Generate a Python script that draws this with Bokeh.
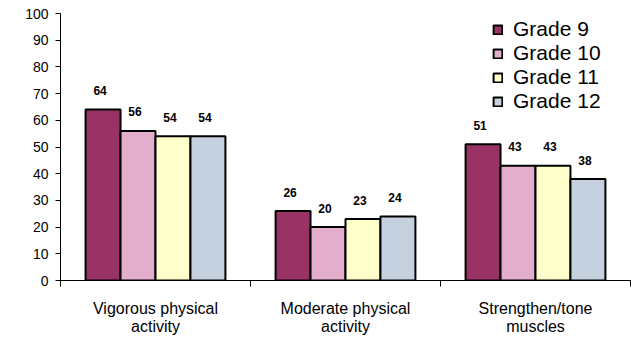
from bokeh.plotting import figure
from bokeh.models import ColumnDataSource, FixedTicker, Legend, LegendItem, Range1d
from bokeh.core.properties import value
from bokeh.embed import file_html
from bokeh.resources import INLINE

categories = ["Vigorous physical\nactivity", "Moderate physical\nactivity", "Strengthen/tone\nmuscles"]
grades = ["Grade 9", "Grade 10", "Grade 11", "Grade 12"]
grade9 = [64, 26, 51]
grade10 = [56, 20, 43]
grade11 = [54, 23, 43]
grade12 = [54, 24, 38]
y_ticks = [0, 10, 20, 30, 40, 50, 60, 70, 80, 90, 100]

series = [grade9, grade10, grade11, grade12]
colors = ["#993366", "#E3AECB", "#FFFFCC", "#C5D1DE"]

FONT = "Liberation Sans"

p = figure(width=631, height=338, output_backend="svg", toolbar_location=None,
           x_range=Range1d(0, 3), y_range=Range1d(0, 100),
           min_border_left=60, min_border_right=1, min_border_top=13, min_border_bottom=58)
p.outline_line_color = None
p.grid.grid_line_color = None
p.background_fill_color = "white"
p.border_fill_color = "white"

bw = 0.184
centers = [i + 0.5 for i in range(len(categories))]
renderers = []
for k, (vals, col) in enumerate(zip(series, colors)):
    xs = [c + (k - 1.5) * bw for c in centers]
    src = ColumnDataSource(dict(x=xs, top=vals, lab=[str(v) for v in vals]))
    r = p.vbar(x="x", top="top", bottom=0, width=bw, source=src,
               fill_color=col, line_color="black", line_width=2)
    renderers.append(r)
    p.text(x="x", y="top", text="lab", source=src, x_offset=-3, y_offset=-19,
           text_align="center", text_baseline="middle",
           text_font=value(FONT), text_font_size="12px", text_font_style="bold",
           text_color="black")

# x axis
xa = p.xaxis[0]
xa.ticker = FixedTicker(ticks=centers, minor_ticks=list(range(len(categories) + 1)))
xa.major_label_overrides = {c: lab for c, lab in zip(centers, categories)}
xa.major_tick_line_color = None
xa.minor_tick_in = 0
xa.minor_tick_out = 6
xa.minor_tick_line_color = "black"
xa.axis_line_color = "black"
xa.axis_line_width = 1
xa.major_label_text_font = FONT
xa.major_label_text_font_size = "16px"
xa.major_label_text_line_height = 1.1
xa.major_label_text_color = "black"
xa.major_label_standoff = 13

# y axis
ya = p.yaxis[0]
ya.ticker = FixedTicker(ticks=y_ticks)
ya.major_tick_in = 0
ya.major_tick_out = 5
ya.minor_tick_line_color = None
ya.axis_line_color = "black"
ya.major_label_text_font = FONT
ya.major_label_text_font_size = "14px"
ya.major_label_text_color = "black"
ya.major_label_standoff = 7

legend = Legend(items=[LegendItem(label=g, renderers=[r]) for g, r in zip(grades, renderers)],
                location=(432, 167), orientation="vertical",
                label_text_font=FONT, label_text_font_size="21px",
                label_text_color="black", glyph_width=11, glyph_height=11,
                label_height=20, spacing=-3, padding=0, margin=0,
                label_standoff=10, border_line_color=None, background_fill_alpha=0)
p.add_layout(legend)

open("out.html", "w").write(file_html(p, INLINE))
